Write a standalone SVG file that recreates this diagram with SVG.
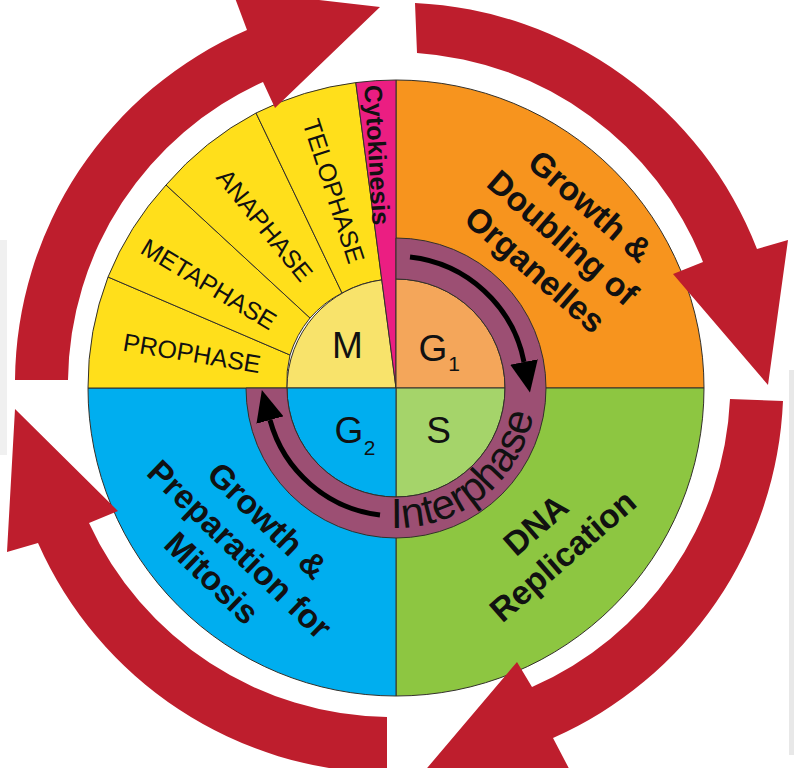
<svg xmlns="http://www.w3.org/2000/svg" width="794" height="768" viewBox="0 0 794 768">
<defs>
<style>
.sec{stroke:#33302a;stroke-width:1}
.div{stroke:#1a1a1a;stroke-width:1.5;fill:none}
.red{fill:#BE1E2D}
.t{font-family:"Liberation Sans",Arial,Helvetica,sans-serif;fill:#111;text-anchor:middle;dominant-baseline:central}
.ph{font-size:25px}
.big{font-size:37px}
.sub{font-size:21px}
.bold{font-size:33.5px;font-weight:bold}
.iarr{fill:none;stroke:#000;stroke-width:5}
.inter{font-family:"Liberation Sans",Arial,Helvetica,sans-serif;font-size:42px;fill:#111}
</style>
<marker id="ah" viewBox="0 0 31 28" refX="0" refY="14" markerWidth="31" markerHeight="28" markerUnits="userSpaceOnUse" orient="auto"><path d="M0,0 L31,14 L0,28 Z" fill="#000"/></marker>
<path id="ipath" d="M391.1,527.9 A140,140 0 0 0 536,388" fill="none"/>
</defs>
<rect width="794" height="768" fill="#fff"/>
<rect x="789" y="370" width="5" height="385" fill="#e8e8e8"/>
<rect x="0" y="240" width="7" height="215" fill="#f0f0f0"/>

<g id="g1-outer"><path class="sec" d="M396,388 L396,80 A308,308 0 0 1 704,388 Z" fill="#F7941E"/></g>
<g id="s-outer"><path class="sec" d="M396,388 L704,388 A308,308 0 0 1 396,696 Z" fill="#8DC641"/></g>
<g id="g2-outer"><path class="sec" d="M396,388 L396,696 A308,308 0 0 1 88,388 Z" fill="#00AEEF"/></g>
<g id="prophase"><path class="sec" d="M287,388 L88,388 A308,308 0 0 1 108,277 L290,355 A109,109 0 0 0 287,388 Z" fill="#FFDF1B"/>
<text class="t ph" transform="translate(192,353) rotate(9.5)">PROPHASE</text></g>
<g id="metaphase"><path class="sec" d="M108,277 A308,308 0 0 1 166,185 L310,318 A109,109 0 0 0 290,355 Z" fill="#FFDF1B"/>
<text class="t ph" transform="translate(209,284) rotate(31)">METAPHASE</text></g>
<g id="anaphase"><path class="sec" d="M166,185 A308,308 0 0 1 256,113 L342,293 A109,109 0 0 0 310,318 Z" fill="#FFDF1B"/>
<text class="t ph" transform="translate(265,225) rotate(51)">ANAPHASE</text></g>
<g id="telophase"><path class="sec" d="M256,113 A308,308 0 0 1 355.8,82.6 L381.8,279.9 A109,109 0 0 0 342,293 Z" fill="#FFDF1B"/>
<text class="t ph" transform="translate(334,191) rotate(72)">TELOPHASE</text></g>
<g id="m"><path class="sec" d="M396,388 L287,388 A109,109 0 0 1 381.8,279.9 Z" fill="#F8E36B"/>
<text class="t big" x="347.5" y="345">M</text></g>
<g id="cytokinesis"><path class="sec" d="M396,388 L355.8,82.6 A308,308 0 0 1 396,80 Z" fill="#EB1E82"/>
<text class="t" style="font-size:25px;font-weight:bold" transform="translate(377.5,155) rotate(86.6)">Cytokinesis</text></g>
<g id="g1"><path class="sec" d="M396,388 L396,279 A109,109 0 0 1 505,388 Z" fill="#F4A65A"/>
<text class="t big" x="433" y="348.5">G</text><text class="t sub" x="454" y="363">1</text></g>
<g id="s"><path class="sec" d="M396,388 L505,388 A109,109 0 0 1 396,497 Z" fill="#A5D46A"/>
<text class="t big" x="438.5" y="430.5">S</text></g>
<g id="g2"><path class="sec" d="M396,388 L396,497 A109,109 0 0 1 287,388 Z" fill="#00AEEF"/>
<text class="t big" x="349" y="430">G</text><text class="t sub" x="369.5" y="447.5">2</text></g>
<g id="interphase"><path class="sec" d="M396,238 A150,150 0 1 1 246,388 L287,388 A109,109 0 1 0 396,279 Z" fill="#9C4F73"/>
<text class="inter"><textPath href="#ipath">Interphase</textPath></text></g>

<g id="label-g1"><text class="t bold" transform="translate(563,237.5) rotate(41)"><tspan x="0" y="-42">Growth &amp;</tspan><tspan x="0" y="0">Doubling of</tspan><tspan x="0" y="42">Organelles</tspan></text></g>
<g id="label-s"><text class="t bold" transform="translate(549,540) rotate(-41)"><tspan x="0" y="-20.5">DNA</tspan><tspan x="0" y="20.5">Replication</tspan></text></g>
<g id="label-g2"><text class="t bold" transform="translate(240,549) rotate(44)"><tspan x="0" y="-40">Growth &amp;</tspan><tspan x="0" y="0">Preparation for</tspan><tspan x="0" y="40">Mitosis</tspan></text></g>

<g id="connectors">
<path class="red" d="M15,380 A385,385 0 0 1 247,30 L232,-10 L380,7 L275,108 L263,82 A331,331 0 0 0 68,380 Z"/>
<path class="red" d="M415,3 A386,386 0 0 1 757,249 L788,240 L768,385 L673,274 L703,262 A332,332 0 0 0 417,53 Z"/>
<path class="red" d="M783,401 A386,386 0 0 1 553,738 L575,780 L400,800 L517,662 L532,687 A331,331 0 0 0 730,399 Z"/>
<path class="red" d="M387,773 A386,386 0 0 1 38,543 L7,552 L15,409 L118,511 L89,523 A333,333 0 0 0 387,717 Z"/>
<path class="iarr" d="M410,257 A131,131 0 0 1 524,362" marker-end="url(#ah)"/>
<path class="iarr" d="M380,515 A130,130 0 0 1 270,420" marker-end="url(#ah)"/>
</g>
</svg>
